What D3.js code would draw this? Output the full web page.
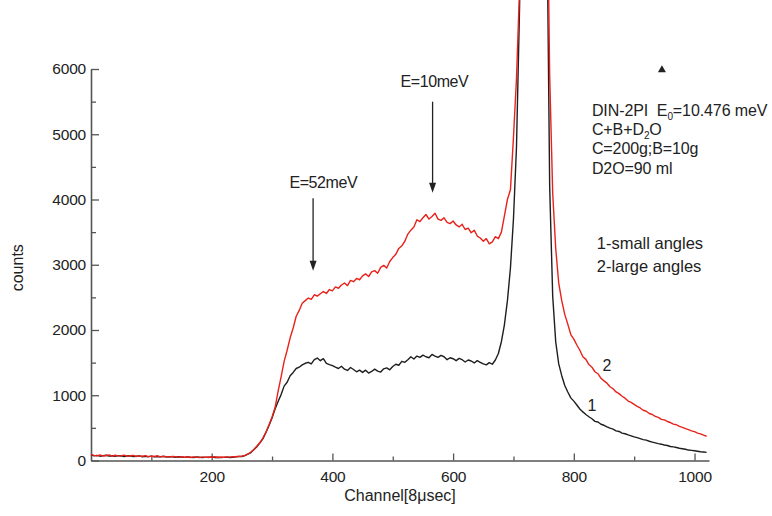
<!DOCTYPE html>
<html>
<head>
<meta charset="utf-8">
<script src="https://cdn.jsdelivr.net/npm/d3@7"></script>
<style>
  body { margin: 0; background: #fff; }
  svg { display: block; font-family: "Liberation Sans", Arial, Helvetica, sans-serif; }
</style>
</head>
<body>
<svg id="chart" width="772" height="516"></svg>
<script>
// Time-of-flight channel numbers (8 µs per channel)
const channels = [
  0, 5, 10, 15, 20, 25, 30, 35, 40, 45,
  50, 55, 60, 65, 70, 75, 80, 85, 90, 95,
  100, 105, 110, 115, 120, 125, 130, 135, 140, 145,
  150, 155, 160, 165, 170, 175, 180, 185, 190, 195,
  200, 205, 210, 215, 220, 225, 230, 235, 240, 245,
  250, 255, 260, 265, 270, 275, 280, 285, 290, 295,
  300, 305, 310, 315, 320, 325, 330, 335, 340, 345,
  350, 355, 360, 365, 370, 375, 380, 385, 390, 395,
  400, 405, 410, 415, 420, 425, 430, 435, 440, 445,
  450, 455, 460, 465, 470, 475, 480, 485, 490, 495,
  500, 505, 510, 515, 520, 525, 530, 535, 540, 545,
  550, 555, 560, 565, 570, 575, 580, 585, 590, 595,
  600, 605, 610, 615, 620, 625, 630, 635, 640, 645,
  650, 655, 660, 665, 670, 675, 680, 685, 690, 695,
  700, 705, 710, 715, 720, 725, 730, 735, 740, 745,
  750, 755, 760, 765, 770, 775, 780, 785, 790, 795,
  800, 805, 810, 815, 820, 825, 830, 835, 840, 845,
  850, 855, 860, 865, 870, 875, 880, 885, 890, 895,
  900, 905, 910, 915, 920, 925, 930, 935, 940, 945,
  950, 955, 960, 965, 970, 975, 980, 985, 990, 995,
  1000, 1005, 1010, 1015, 1020
];

// Curve 1: small scattering angles (counts per channel)
const smallAngles = [
  85, 70, 78, 66, 74, 80, 68, 72, 64, 75,
  70, 62, 68, 73, 60, 66, 71, 58, 64, 60,
  67, 55, 62, 58, 64, 52, 60, 56, 50, 58,
  54, 48, 56, 50, 46, 54, 49, 44, 52, 47,
  55, 45, 50, 44, 48, 52, 46, 50, 55, 60,
  62, 74, 96, 122, 168, 212, 272, 336, 432, 536,
  652, 790, 905, 1010, 1140, 1200, 1300, 1350, 1410, 1430,
  1465, 1490, 1505, 1480, 1545, 1570, 1530, 1560, 1490, 1470,
  1455, 1430, 1410, 1445, 1400, 1380, 1425, 1395, 1360, 1385,
  1350, 1385, 1340, 1365, 1400, 1370, 1355, 1405, 1420, 1390,
  1440, 1475, 1460, 1520, 1505, 1545, 1590, 1555, 1600, 1580,
  1615, 1590, 1575, 1625, 1600, 1580, 1610, 1590, 1545, 1575,
  1560, 1530, 1565, 1545, 1510, 1540, 1525, 1495, 1530, 1505,
  1480, 1465, 1500, 1475, 1540, 1640, 1820, 2080, 2450, 2950,
  3700, 4800, 6900, 9500, 12000, 15000, 17000, 17500, 16000, 14000,
  11500, 8800, 4200, 2520, 1820, 1480, 1300, 1150, 1050, 960,
  910, 850, 790, 745, 705, 670, 640, 600, 590, 555,
  540, 515, 495, 480, 455, 445, 420, 410, 392, 378,
  362, 350, 335, 320, 312, 295, 282, 270, 258, 250,
  238, 230, 215, 208, 200, 188, 180, 172, 160, 155,
  150, 142, 135, 130, 125
];

// Curve 2: large scattering angles (counts per channel)
const largeAngles = [
  92, 78, 70, 84, 68, 76, 86, 66, 80, 70,
  74, 82, 64, 72, 78, 62, 70, 66, 74, 58,
  68, 62, 72, 56, 66, 60, 54, 64, 58, 52,
  60, 50, 58, 46, 55, 50, 44, 56, 48, 54,
  50, 58, 46, 54, 50, 56, 52, 60, 58, 66,
  66, 78, 100, 130, 170, 222, 275, 348, 436, 548,
  668, 812, 1060, 1280, 1520, 1690, 1880, 2030, 2210, 2300,
  2410, 2450, 2490, 2470, 2540, 2520, 2555, 2590, 2560, 2620,
  2600, 2660, 2640, 2690, 2720, 2680, 2760, 2740, 2790, 2770,
  2830, 2860, 2820, 2890, 2910, 2870, 2960, 2990, 2950, 3050,
  3110, 3160, 3250, 3290, 3360, 3470, 3530, 3580, 3690, 3660,
  3720, 3770, 3700, 3740, 3790, 3700, 3680, 3720, 3650, 3630,
  3670, 3610, 3580, 3620, 3540, 3560, 3490, 3530, 3440, 3410,
  3360, 3400, 3320, 3350, 3430, 3400, 3500, 3750, 4000, 4150,
  4950, 5850, 7200, 9500, 12500, 15500, 17500, 18000, 17000, 15000,
  12500, 9600, 5900, 4100, 3250, 2720, 2450, 2240, 2090, 1930,
  1860, 1770, 1690, 1590, 1550, 1470, 1430, 1360, 1330, 1260,
  1220, 1185, 1130, 1100, 1050, 1025, 985, 955, 910, 890,
  860, 830, 805, 770, 755, 720, 705, 675, 660, 630,
  622, 598, 582, 558, 548, 522, 508, 488, 472, 455,
  442, 420, 408, 388, 372
];

const xTicks = [200, 400, 600, 800, 1000];
const xMinorTicks = [100, 300, 500, 700, 900];
const yTicks = [0, 1000, 2000, 3000, 4000, 5000, 6000];
const yMinorTicks = [500, 1500, 2500, 3500, 4500, 5500];

// Energy markers: arrow from top value down to tip value at a channel, with a caption
const energyLabels = ["E=52meV", "E=10meV"];
const energyChannels = [368, 566];
const energyArrowTop = [4018, 5499];
const energyArrowTip = [2909, 4104];
const energyLabelChannels = [385, 569];
const energyLabelValues = [4172, 5720];

// Curve numbers placed beside the tails
const curveNumbers = ["1", "2"];
const curveNumberChannels = [830, 855];
const curveNumberValues = [759, 1372];

// Experiment description
const infoLines = [
  [["DIN-2PI\u00a0\u00a0E", ""], ["0", "sub"], ["=10.476 meV", ""]],
  [["C+B+D", ""], ["2", "sub"], ["O", ""]],
  [["C=200g;B=10g", ""]],
  [["D2O=90 ml", ""]]
];
const legendLines = ["1-small angles", "2-large angles"];

const W = 772, H = 516;
const svg = d3.select("#chart");
svg.append("rect").attr("width", W).attr("height", H).attr("fill", "#fff");

const x = d3.scaleLinear().domain([0, 1024]).range([91, 709]);
const y = d3.scaleLinear().domain([0, 6000]).range([460.5, 69]);

const axisColor = "#555";
const textColor = "#222";

// X axis (ticks drawn inward)
const gx = svg.append("g").attr("transform", `translate(0,${y(0)})`);
gx.call(d3.axisBottom(x).tickValues(xTicks).tickFormat(d3.format("d"))
  .tickSizeInner(-7).tickSizeOuter(0).tickPadding(10));
const gxMinor = svg.append("g").attr("transform", `translate(0,${y(0)})`);
gxMinor.call(d3.axisBottom(x).tickValues(xMinorTicks).tickSizeInner(-4).tickSizeOuter(0).tickFormat(""));
gxMinor.select(".domain").remove();

// Y axis (ticks drawn inward)
const gy = svg.append("g").attr("transform", `translate(${x(0)},0)`);
gy.call(d3.axisLeft(y).tickValues(yTicks).tickFormat(d3.format("d"))
  .tickSizeInner(-8).tickSizeOuter(0).tickPadding(5));
const gyMinor = svg.append("g").attr("transform", `translate(${x(0)},0)`);
gyMinor.call(d3.axisLeft(y).tickValues(yMinorTicks).tickSizeInner(-5).tickSizeOuter(0).tickFormat(""));
gyMinor.select(".domain").remove();

svg.selectAll(".domain").attr("stroke", axisColor).attr("stroke-width", 1.6);
svg.selectAll(".tick line").attr("stroke", axisColor).attr("stroke-width", 1.3);
svg.selectAll(".tick text")
  .attr("fill", textColor)
  .attr("font-size", 15.5)
  .attr("font-family", '"Liberation Sans", Arial, sans-serif')
  .attr("letter-spacing", "-0.2px");

// Axis titles
svg.append("text")
  .attr("x", (x(0) + x(1024)) / 2)
  .attr("y", 501)
  .attr("text-anchor", "middle")
  .attr("font-size", 16)
  .attr("fill", textColor)
  .text("Channel[8\u03bcsec]");

svg.append("text")
  .attr("transform", `translate(23,${(y(0) + y(6000)) / 2 + 3}) rotate(-90)`)
  .attr("text-anchor", "middle")
  .attr("font-size", 16)
  .attr("fill", textColor)
  .text("counts");

// Spectra
const line = d3.line()
  .x((d, i) => x(channels[i]))
  .y(d => y(d));

const spectra = [
  { values: smallAngles, color: "#1e1e1e" },
  { values: largeAngles, color: "#e8221b" }
];
svg.selectAll("path.spectrum")
  .data(spectra)
  .join("path")
  .attr("class", "spectrum")
  .attr("fill", "none")
  .attr("stroke", d => d.color)
  .attr("stroke-width", 1.4)
  .attr("stroke-linejoin", "round")
  .attr("d", d => line(d.values));

// Energy arrows
energyLabels.forEach((label, i) => {
  const ax = x(energyChannels[i]);
  const yTop = y(energyArrowTop[i]);
  const yTip = y(energyArrowTip[i]);
  const headH = 10, headW = 3.5;
  svg.append("line")
    .attr("x1", ax).attr("x2", ax)
    .attr("y1", yTop).attr("y2", yTip - headH + 1)
    .attr("stroke", "#222").attr("stroke-width", 1.3);
  svg.append("path")
    .attr("d", `M${ax - headW},${yTip - headH} L${ax + headW},${yTip - headH} L${ax},${yTip} Z`)
    .attr("fill", "#222");
  svg.append("text")
    .attr("x", x(energyLabelChannels[i]))
    .attr("y", y(energyLabelValues[i]))
    .attr("text-anchor", "middle")
    .attr("font-size", 16)
    .attr("letter-spacing", "-0.4px")
    .attr("fill", textColor)
    .text(label);
});

// Curve numbers
curveNumbers.forEach((t, i) => {
  svg.append("text")
    .attr("x", x(curveNumberChannels[i]))
    .attr("y", y(curveNumberValues[i]))
    .attr("text-anchor", "middle")
    .attr("font-size", 16)
    .attr("fill", textColor)
    .text(t);
});

// Small marker in the upper right
svg.append("path")
  .attr("transform", `translate(${x(946)},${y(5985)})`)
  .attr("d", d3.symbol(d3.symbolTriangle, 28)())
  .attr("fill", "#222");

// Description block
const info = svg.append("text")
  .attr("x", x(830))
  .attr("y", y(5280))
  .attr("font-size", 16)
  .attr("letter-spacing", "-0.1px")
  .attr("fill", textColor);
infoLines.forEach((parts, li) => {
  parts.forEach(([txt, kind], pi) => {
    const ts = info.append("tspan").text(txt);
    if (pi === 0) ts.attr("x", x(830)).attr("dy", li === 0 ? 0 : 19.2);
    if (kind === "sub") {
      ts.attr("font-size", 10).attr("dy", 4);
    } else if (pi > 0 && parts[pi - 1][1] === "sub") {
      ts.attr("dy", -4);
    }
  });
});

const legend = svg.append("text")
  .attr("font-size", 16.5)
  .attr("fill", textColor);
legendLines.forEach((t, i) => {
  legend.append("tspan")
    .attr("x", x(838))
    .attr("y", y(3241) + i * 23)
    .text(t);
});
</script>
</body>
</html>
